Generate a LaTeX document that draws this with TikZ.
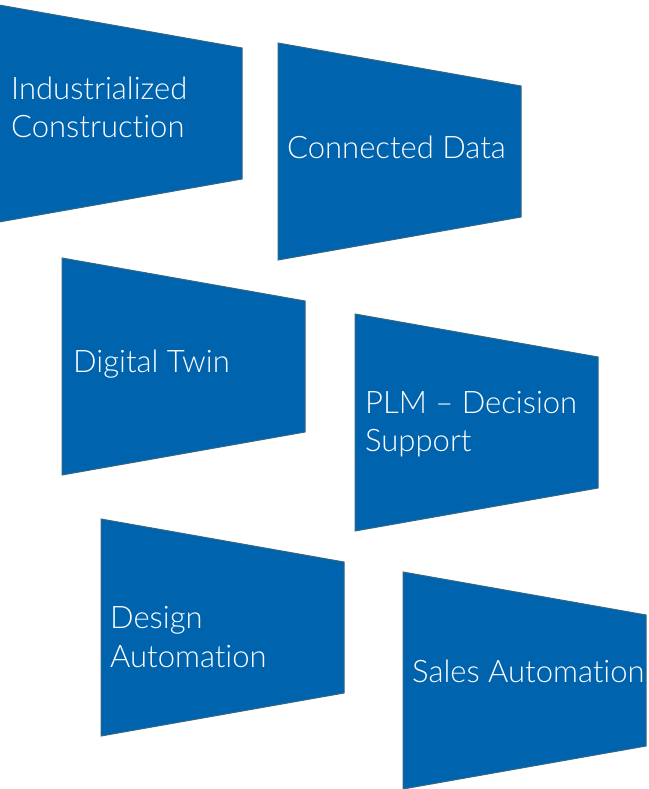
\documentclass[tikz,border=0pt]{standalone}
\usepackage{fontspec}
\setmainfont{Lato Light}[Ligatures=NoCommon]
\definecolor{panelblue}{RGB}{0,99,174}
\definecolor{paneledge}{RGB}{52,104,132}
\tikzset{
  panel/.style={fill=panelblue, draw=paneledge, line width=1pt, line join=miter},
  label/.style={anchor=base west, inner sep=0pt, text=white, font=\fontsize{31}{38}\selectfont}
}
\begin{document}
\begin{tikzpicture}[x=1pt,y=-1pt]
\useasboundingbox (0,0) rectangle (648,789);
% panels: left x, top-left y, width 243
\newcommand\mypanel[2]{%
  \path[panel] (#1,#2) -- ++(243,43) -- ++(0,131) -- ++(-243,43) -- cycle;}
\mypanel{-1}{5}
\mypanel{278}{43}
\mypanel{62}{258}
\mypanel{355}{314}
\mypanel{101}{519}
\mypanel{403}{572}
% labels
\node[label] (ic1) at (11,100) {Industrialized};
\node[label] (ic2) at (11,138) {Construction};
\node[label] (cd) at (287,158) {Connected Data};
\node[label] (dt) at (73,372) {Digital Twin};
\node[label] (plm1) at (365,413) {PLM – Decision};
\node[label] (plm2) at (365,451) {Support};
\node[label] (da1) at (110,628) {Design};
\node[label] (da2) at (110,667) {Automation};
\node[label] (sa) at (412,682) {Sales Automation};
\end{tikzpicture}
\end{document}
